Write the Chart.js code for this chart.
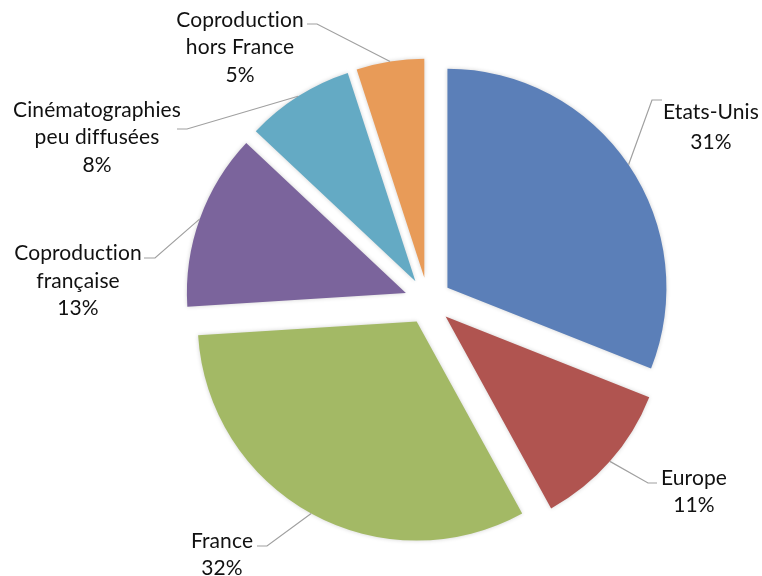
<!DOCTYPE html>
<html>
<head>
<meta charset="utf-8">
<script src="https://cdn.jsdelivr.net/npm/chart.js@4/dist/chart.umd.min.js"></script>
<style>
  html, body { margin: 0; padding: 0; background: #fff; }
  #wrap { width: 762px; height: 576px; }
</style>
</head>
<body>
<div id="wrap"><canvas id="pie"></canvas></div>
<script>
// data
const categories = ["Etats-Unis", "Europe", "France", "Coproduction française", "Cinématographies peu diffusées", "Coproduction hors France"];
const shares = [31, 11, 32, 13, 8, 5];
const nameLines = [["Etats-Unis"], ["Europe"], ["France"], ["Coproduction", "française"], ["Cinématographies", "peu diffusées"], ["Coproduction", "hors France"]];
const colors = ["#5b7fb8", "#b05450", "#a3b965", "#7b649c", "#64aac4", "#e89b58"];

// label layout: text centre x, first baseline, line step, leader elbow and end
const labelLayout = [
  { x: 711, y: 119, step: 30, elbow: [652, 100], end: [662, 100] },
  { x: 694, y: 485, step: 27, elbow: [648, 483], end: [657, 483] },
  { x: 222, y: 548, step: 27, elbow: [267, 546], end: [257, 546] },
  { x: 78, y: 260, step: 27.5, elbow: [155, 258], end: [144, 258] },
  { x: 97, y: 117, step: 27.3, elbow: [187, 129], end: [177, 129] },
  { x: 240, y: 27, step: 27.3, elbow: [317, 24], end: [307, 24] },
];

const explode = 23.5;

const explodePlugin = {
  id: "explode",
  beforeDatasetDraw(chart, args) {
    const ctx = chart.ctx;
    args.meta.data.forEach((arc) => {
      const mid = (arc.startAngle + arc.endAngle) / 2;
      ctx.save();
      ctx.shadowColor = "rgba(0,0,0,0.18)";
      ctx.shadowBlur = 4;
      ctx.translate(Math.cos(mid) * explode, Math.sin(mid) * explode);
      arc.draw(ctx);
      ctx.restore();
    });
    return false;
  },
};

const labelPlugin = {
  id: "pieLabels",
  afterDatasetsDraw(chart) {
    const ctx = chart.ctx;
    const arcs = chart.getDatasetMeta(0).data;
    ctx.save();
    arcs.forEach((arc, i) => {
      const mid = (arc.startAngle + arc.endAngle) / 2;
      const r = arc.outerRadius + explode;
      const lay = labelLayout[i];
      ctx.strokeStyle = "#a0a0a0";
      ctx.lineWidth = 1.2;
      ctx.beginPath();
      ctx.moveTo(arc.x + Math.cos(mid) * r, arc.y + Math.sin(mid) * r);
      ctx.lineTo(lay.elbow[0], lay.elbow[1]);
      ctx.lineTo(lay.end[0], lay.end[1]);
      ctx.stroke();

      const lines = nameLines[i].concat([shares[i] + "%"]);
      ctx.fillStyle = "#111";
      ctx.font = "21px Lato";
      ctx.letterSpacing = "0.1px"; // keeps "ti" from turning into a ligature
      ctx.textAlign = "center";
      ctx.textBaseline = "alphabetic";
      lines.forEach((t, k) => ctx.fillText(t, lay.x, lay.y + k * lay.step));
    });
    ctx.restore();
  },
};

new Chart(document.getElementById("pie"), {
  type: "pie",
  data: {
    labels: categories,
    datasets: [{
      data: shares,
      backgroundColor: colors,
      borderWidth: 0,
      radius: 219,
    }],
  },
  options: {
    responsive: true,
    maintainAspectRatio: false,
    animation: false,
    layout: { padding: { left: 94, top: 26, right: 0, bottom: 0 } },
    plugins: {
      legend: { display: false },
      tooltip: { enabled: false },
    },
  },
  plugins: [explodePlugin, labelPlugin],
});
</script>
</body>
</html>
